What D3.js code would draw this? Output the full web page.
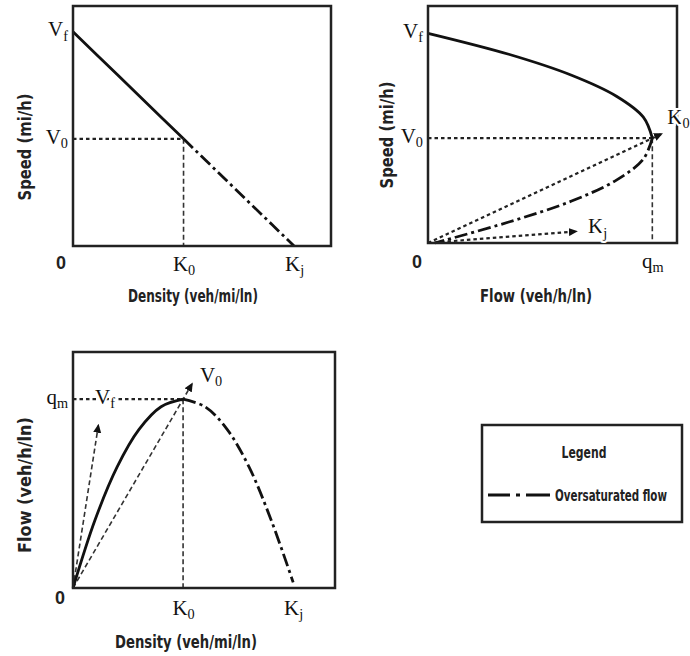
<!DOCTYPE html>
<html>
<head>
<meta charset="utf-8">
<script src="https://cdn.jsdelivr.net/npm/d3@7"></script>
<style>
  html, body { margin: 0; padding: 0; background: #fff; }
  .title { font-family: "Liberation Sans Narrow", "DejaVu Sans Condensed", "Liberation Sans", Arial, sans-serif; font-weight: bold; fill: #222; }
  .sym { font-family: "Liberation Serif", "Times New Roman", serif; fill: #111; }
  .zero { font-family: "Liberation Sans", Arial, sans-serif; font-weight: bold; fill: #222; }
</style>
</head>
<body>
<div id="chart"></div>
<script>
// normalised traffic stream values (K0 = V0 = 0.5, Kj = Vf = qm = 1)
const densityPts = [0, 0.1, 0.2, 0.3, 0.4, 0.5, 0.6, 0.7, 0.8, 0.9, 1];
const speedPts   = [1, 0.9, 0.8, 0.7, 0.6, 0.5, 0.4, 0.3, 0.2, 0.1, 0];
const flowPts    = [0, 0.36, 0.64, 0.84, 0.96, 1, 0.96, 0.84, 0.64, 0.36, 0.03];
const splitIdx = 5; // index of K0 / V0 / qm, where flow becomes oversaturated

const K0 = 0.5, Kj = 1, V0 = 0.5, Vf = 1, qm = 1;

// rays drawn in the speed-flow and flow-density panels
const rayK0 = [[0, 0], [1.04, 0.52]];
const rayKj = [[0, 0], [0.66, 0.055]];
const rayV0 = [[0, 0], [0.54, 1.08]];
const rayVf = [[0, 0], [0.115, 0.86]];

const legendLabels = ['Legend', 'Oversaturated flow'];

const svg = d3.select('#chart').append('svg').attr('width', 690).attr('height', 656);

const defs = svg.append('defs');
defs.append('marker').attr('id', 'arrow').attr('viewBox', '0 -5 10 10').attr('refX', 8).attr('refY', 0)
    .attr('markerWidth', 9).attr('markerHeight', 9).attr('markerUnits', 'userSpaceOnUse').attr('orient', 'auto')
    .append('path').attr('d', 'M0,-4.5L10,0L0,4.5Z').attr('fill', '#111');

const SOLID = { stroke: '#111', width: 2.8, dash: null };
const DASHDOT = { stroke: '#111', width: 2.8, dash: '13,4,3,4' };
const DOTTED = { stroke: '#222', width: 2.2, dash: '3.5,3' };
const DASHED = { stroke: '#333', width: 1.6, dash: '5,3' };

function subLabel(sel, main, sub) {
    sel.text(null);
    sel.append('tspan').text(main);
    sel.append('tspan').attr('font-size', '0.68em').attr('dy', '0.3em').text(sub);
}

// squeeze a bold label horizontally to the width it has in the diagram
function condensed(g, text, len, x, y, opts) {
    const o = opts || {};
    const t = g.append('text').attr('class', 'title').attr('font-size', o.size || 17)
        .attr('text-anchor', o.anchor || 'middle').text(text);
    const s = len / t.node().getComputedTextLength();
    t.attr('transform', `translate(${x},${y})${o.rotate ? ' rotate(-90)' : ''} scale(${s},1)`);
    return t;
}

function drawLine(g, pts, x, y, st, curve, marker) {
    const line = d3.line().x(d => x(d[0])).y(d => y(d[1])).curve(curve || d3.curveLinear);
    const p = g.append('path').datum(pts).attr('fill', 'none').attr('stroke', st.stroke)
        .attr('stroke-width', st.width).attr('d', line);
    if (st.dash) p.attr('stroke-dasharray', st.dash);
    if (marker) p.attr('marker-end', 'url(#arrow)');
    return p;
}

function panel(cfg) {
    const x = d3.scaleLinear().domain([0, cfg.xMax]).range([cfg.left, cfg.right]);
    const y = d3.scaleLinear().domain([0, cfg.yMax]).range([cfg.bottom, cfg.top]);
    const g = svg.append('g');

    cfg.draw(g, x, y);

    g.append('rect').attr('x', cfg.left).attr('y', cfg.top).attr('width', cfg.right - cfg.left)
        .attr('height', cfg.bottom - cfg.top).attr('fill', 'none').attr('stroke', '#222').attr('stroke-width', 2.5);

    // x ticks
    const xAxis = g.append('g').attr('transform', `translate(0,${cfg.bottom})`)
        .call(d3.axisBottom(x).tickValues(cfg.xTicks.map(t => t.v)).tickSize(0).tickPadding(0));
    xAxis.select('.domain').remove();
    xAxis.selectAll('.tick text').attr('class', 'sym').attr('font-size', 21).attr('y', cfg.xTickY).attr('dy', 0)
        .attr('fill', null).each(function (d, i) { subLabel(d3.select(this), cfg.xTicks[i].main, cfg.xTicks[i].sub); });

    // y ticks
    const yAxis = g.append('g').attr('transform', `translate(${cfg.left},0)`)
        .call(d3.axisLeft(y).tickValues(cfg.yTicks.map(t => t.v)).tickSize(0).tickPadding(5));
    yAxis.select('.domain').remove();
    yAxis.selectAll('.tick text').attr('class', 'sym').attr('font-size', 21).attr('dy', '0.2em')
        .attr('fill', null).each(function (d, i) { subLabel(d3.select(this), cfg.yTicks[i].main, cfg.yTicks[i].sub); });

    g.append('text').attr('class', 'zero').attr('font-size', 18).attr('text-anchor', 'middle')
        .attr('x', cfg.left + cfg.zeroDx).attr('y', cfg.bottom + cfg.zeroDy).text('0');

    condensed(g, cfg.xTitle.text, cfg.xTitle.len, cfg.xTitle.x, cfg.xTitle.y);
    condensed(g, cfg.yTitle.text, cfg.yTitle.len, cfg.yTitle.x, cfg.yTitle.y, { rotate: true });

    (cfg.notes || []).forEach(n => {
        const t = g.append('text').attr('class', 'sym').attr('font-size', 21)
            .attr('x', x(n.at[0]) + n.dx).attr('y', y(n.at[1]) + n.dy)
            .attr('stroke', '#fff').attr('stroke-width', 4).attr('paint-order', 'stroke');
        subLabel(t, n.main, n.sub);
    });
}

const kv = densityPts.map((k, i) => [k, speedPts[i]]);
const qv = flowPts.map((q, i) => [q, speedPts[i]]);
const kq = densityPts.map((k, i) => [k, flowPts[i]]);

// Speed vs density
panel({
    left: 73, right: 331, top: 6, bottom: 246, xMax: 1.167, yMax: 1.12,
    xTicks: [{ v: K0, main: 'K', sub: '0' }, { v: Kj, main: 'K', sub: 'j' }], xTickY: 25,
    yTicks: [{ v: Vf, main: 'V', sub: 'f' }, { v: V0, main: 'V', sub: '0' }],
    zeroDx: -12, zeroDy: 23,
    xTitle: { text: 'Density (veh/mi/ln)', x: 193, y: 302, len: 130 },
    yTitle: { text: 'Speed (mi/h)', x: 31, y: 147, len: 107 },
    draw: (g, x, y) => {
        drawLine(g, [[0, V0], [K0, V0]], x, y, DOTTED);
        drawLine(g, [[K0, V0], [K0, 0]], x, y, DASHED);
        drawLine(g, kv.slice(0, splitIdx + 1), x, y, SOLID);
        drawLine(g, kv.slice(splitIdx), x, y, DASHDOT);
    }
});

// Speed vs flow
panel({
    left: 428, right: 677, top: 6, bottom: 243, xMax: 1.11, yMax: 1.13,
    xTicks: [{ v: qm, main: 'q', sub: 'm' }], xTickY: 25,
    yTicks: [{ v: Vf, main: 'V', sub: 'f' }, { v: V0, main: 'V', sub: '0' }],
    zeroDx: -11, zeroDy: 25,
    xTitle: { text: 'Flow (veh/h/ln)', x: 536, y: 302, len: 112 },
    yTitle: { text: 'Speed (mi/h)', x: 393, y: 135, len: 107 },
    notes: [{ at: rayK0[1], main: 'K', sub: '0', dx: 6, dy: -10 }, { at: rayKj[1], main: 'K', sub: 'j', dx: 12, dy: 2 }],
    draw: (g, x, y) => {
        drawLine(g, [[0, V0], [qm, V0]], x, y, DOTTED);
        drawLine(g, [[qm, V0], [qm, 0]], x, y, DASHED);
        drawLine(g, rayK0, x, y, DOTTED, null, true);
        drawLine(g, rayKj, x, y, DOTTED, null, true);
        drawLine(g, qv.slice(0, splitIdx + 1), x, y, SOLID, d3.curveCatmullRom);
        drawLine(g, qv.slice(splitIdx), x, y, DASHDOT, d3.curveCatmullRom);
    }
});

// Flow vs density
panel({
    left: 73, right: 335, top: 352, bottom: 588, xMax: 1.19, yMax: 1.25,
    xTicks: [{ v: K0, main: 'K', sub: '0' }, { v: Kj, main: 'K', sub: 'j' }], xTickY: 27,
    yTicks: [{ v: qm, main: 'q', sub: 'm' }],
    zeroDx: -13, zeroDy: 16,
    xTitle: { text: 'Density (veh/mi/ln)', x: 186, y: 648, len: 142 },
    yTitle: { text: 'Flow (veh/h/ln)', x: 31, y: 485, len: 136 },
    notes: [{ at: rayV0[1], main: 'V', sub: '0', dx: 8, dy: -2 }, { at: [0, qm], main: 'V', sub: 'f', dx: 22, dy: 5 }],
    draw: (g, x, y) => {
        drawLine(g, [[0, qm], [K0, qm]], x, y, DOTTED);
        drawLine(g, [[K0, qm], [K0, 0]], x, y, DASHED);
        drawLine(g, rayV0, x, y, DASHED, null, true);
        drawLine(g, rayVf, x, y, DASHED, null, true);
        drawLine(g, kq.slice(0, splitIdx + 1), x, y, SOLID, d3.curveCatmullRom);
        drawLine(g, kq.slice(splitIdx), x, y, DASHDOT, d3.curveCatmullRom);
    }
});

// legend
const lg = svg.append('g');
lg.append('rect').attr('x', 482).attr('y', 425).attr('width', 200).attr('height', 97)
    .attr('fill', '#fff').attr('stroke', '#222').attr('stroke-width', 2.5);
condensed(lg, legendLabels[0], 45, 584, 458, { size: 16 });
lg.append('line').attr('x1', 488).attr('x2', 550).attr('y1', 495).attr('y2', 495)
    .attr('stroke', DASHDOT.stroke).attr('stroke-width', DASHDOT.width).attr('stroke-dasharray', '22,6,4,6,24');
condensed(lg, legendLabels[1], 112, 555, 501, { size: 16, anchor: 'start' });
</script>
</body>
</html>
